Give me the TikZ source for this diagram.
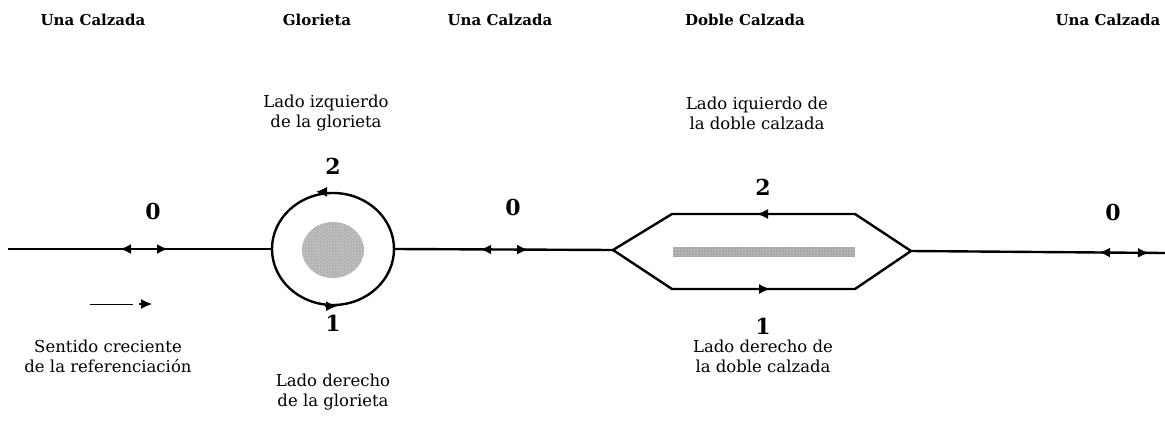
\documentclass[tikz,border=0pt]{standalone}
\usepackage{fontspec}
\setmainfont{DejaVu Serif}
\usetikzlibrary{arrows.meta,shapes.geometric,decorations.markings,patterns}
\begin{document}
\begin{tikzpicture}[x=1pt,y=-1pt,
  road/.style={line width=2.4pt,black},
  tip/.style={-{Latex[length=11pt,width=10pt]},line width=1.2pt},
  toplabel/.style={font=\fontsize{15}{18}\selectfont\bfseries},
  digit/.style={font=\fontsize{22}{24}\selectfont\bfseries},
  note/.style={font=\fontsize{16.5}{20}\selectfont,align=center},
  midarrows/.style 2 args={postaction={decorate,decoration={markings,
     mark=at position #1 with {\arrowreversed{Latex[length=11pt,width=10pt]}},
     mark=at position #2 with {\arrow{Latex[length=11pt,width=10pt]}}}}}
]
\useasboundingbox (0,0) rectangle (1165,434);

% top labels
\node[toplabel] (t1) at (93,20) {Una Calzada};
\node[toplabel] (t2) at (317,20) {Glorieta};
\node[toplabel] (t3) at (500,20) {Una Calzada};
\node[toplabel] (t4) at (745,20) {Doble Calzada};
\node[toplabel] (t5) at (1108,20) {Una Calzada};

% roundabout
\node[ellipse,draw,line width=2.4pt,minimum width=122pt,minimum height=112pt,inner sep=0pt] (glor) at (333,249) {};
\node[ellipse,minimum width=62pt,minimum height=56pt,inner sep=0pt,fill=gray!60] (isleb) at (333,250) {};
\node[ellipse,minimum width=62pt,minimum height=56pt,inner sep=0pt,
  pattern=crosshatch dots,pattern color=gray!30] (isle) at (333,250) {};
\draw[tip] ([xshift=-6pt]glor.north) -- ([xshift=-17pt]glor.north);
\draw[tip] ([xshift=-8pt]glor.south) -- ([xshift=4pt]glor.south);

% road coordinates
\coordinate (start) at (8,249);
\coordinate (hexL) at (613,250);
\coordinate (hTL) at (672,214);
\coordinate (hTR) at (855,214);
\coordinate (hexR) at (911,251);
\coordinate (hBR) at (855,289);
\coordinate (hBL) at (672,289);
\coordinate (endR) at (1165,253);

% roads
\draw[road,midarrows={112pt}{160pt}] (start) -- (glor.west);
\draw[road,midarrows={85pt}{133pt}] (glor.east) -- (hexL);
\draw[road,midarrows={188pt}{238pt}] (hexR) -- (endR);

% dual carriageway
\draw[road,line join=miter] (hexL) -- (hTL) -- (hTR) -- (hexR);
\draw[road,line join=miter] (hexL) -- (hBL) -- (hBR) -- (hexR);
\draw[tip] (771,214) -- (757,214);
\draw[tip] (755,289) -- (770,289);
\path[fill=gray!70] (673,247) rectangle (855,257);
\path[pattern=crosshatch dots,pattern color=gray!30] (673,247) rectangle (855,257);

% direction arrow
\coordinate (d1) at (90,304);
\coordinate (d2) at (133,304);
\coordinate (d3) at (139,304);
\coordinate (d4) at (152,304);
\draw[line width=1pt] (d1) -- (d2);
\draw[tip] (d3) -- (d4);

% digits
\node[digit] (z1) at (153,211) {0};
\node[digit] (z2) at (513,207) {0};
\node[digit] (z3) at (1113,212) {0};
\node[digit] (g2) at (333,166) {2};
\node[digit] (g1) at (333,323) {1};
\node[digit] (d2n) at (763,187) {2};
\node[digit] (d1n) at (763,326) {1};

% notes
\node[note] (n1) at (326,113) {Lado izquierdo\\de la glorieta};
\node[note] (n2) at (333,392) {Lado derecho\\de la glorieta};
\node[note] (n3) at (108,356) {Sentido creciente\\de la referenciación};
\node[note] (n4) at (757,113) {Lado iquierdo de\\la doble calzada};
\node[note] (n5) at (763,356) {Lado derecho de\\la doble calzada};
\end{tikzpicture}
\end{document}
